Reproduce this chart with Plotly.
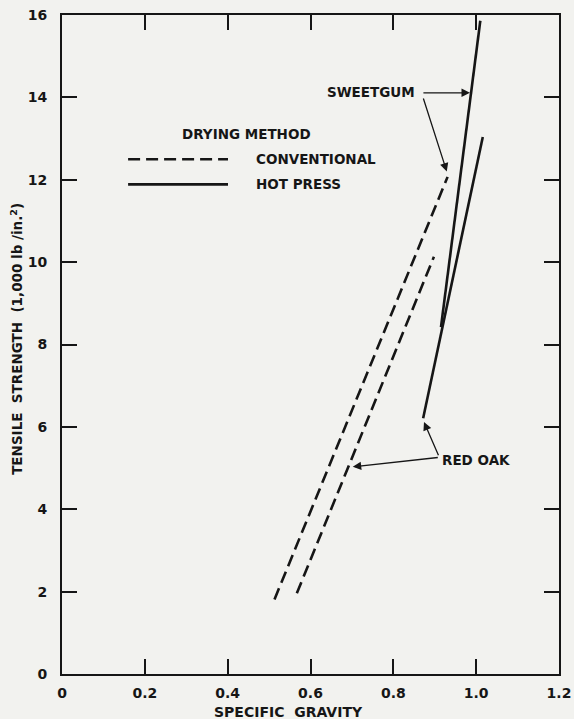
import plotly.graph_objects as go

# Data
sweetgum_conv_x = [0.513, 0.931]
sweetgum_conv_y = [1.81, 12.07]
redoak_conv_x = [0.567, 0.898]
redoak_conv_y = [1.96, 10.13]
sweetgum_hp_x = [0.915, 1.010]
sweetgum_hp_y = [8.42, 15.86]
redoak_hp_x = [0.872, 1.016]
redoak_hp_y = [6.21, 13.04]

x_ticks = [0, 0.2, 0.4, 0.6, 0.8, 1.0, 1.2]
x_ticklabels = ["0", "0.2", "0.4", "0.6", "0.8", "1.0", "1.2"]
y_ticks = [0, 2, 4, 6, 8, 10, 12, 14, 16]
y_ticklabels = ["0", "2", "4", "6", "8", "10", "12", "14", "16"]

INK = "#161616"
BG = "#f2f2ef"
FONT = "DejaVu Sans"
DASH = "12px,6px"
TXT = dict(family=FONT, size=13.5, color=INK, weight="bold")

fig = go.Figure()
for xs, ys, dash in [
    (sweetgum_conv_x, sweetgum_conv_y, DASH),
    (redoak_conv_x, redoak_conv_y, DASH),
    (sweetgum_hp_x, sweetgum_hp_y, "solid"),
    (redoak_hp_x, redoak_hp_y, "solid"),
]:
    fig.add_trace(go.Scatter(x=xs, y=ys, mode="lines",
                             line=dict(color=INK, width=2.6, dash=dash),
                             showlegend=False, hoverinfo="skip"))

axis_common = dict(showgrid=False, zeroline=False, showline=True, linecolor=INK,
                   linewidth=2, mirror="ticks", ticks="inside", ticklen=15,
                   tickwidth=2, tickcolor=INK, automargin=False,
                   tickfont=dict(family=FONT, size=14, color=INK, weight="bold"))

fig.update_xaxes(range=[0, 1.2], tickvals=x_ticks, ticktext=x_ticklabels,
                 ticklabelstandoff=5, **axis_common)
fig.update_yaxes(range=[0, 16], tickvals=y_ticks, ticktext=y_ticklabels,
                 ticklabelstandoff=10, **axis_common)

annotations = []
# text labels
annotations.append(dict(x=0.857, y=14.12, xref="x", yref="y", text="SWEETGUM",
                        showarrow=False, xanchor="right", yanchor="middle", font=TXT))
annotations.append(dict(x=0.913, y=5.19, xref="x", yref="y", text="RED OAK",
                        showarrow=False, xanchor="left", yanchor="middle", font=TXT))
# leader arrows (tail -> tip)
leaders = [
    ((0.869, 14.11), (0.985, 14.11)),
    ((0.871, 14.02), (0.929, 12.20)),
    ((0.911, 5.26), (0.702, 5.03)),
    ((0.911, 5.26), (0.874, 6.12)),
]
for (tx, ty), (hx, hy) in leaders:
    annotations.append(dict(x=hx, y=hy, ax=tx, ay=ty, xref="x", yref="y",
                            axref="x", ayref="y", text=" ", showarrow=True,
                            arrowhead=2, arrowsize=1.3, arrowwidth=1.3,
                            arrowcolor=INK, standoff=0, startstandoff=0,
                            font=dict(size=1)))

# legend (drawn manually)
annotations.append(dict(x=0.372, y=0.819, xref="paper", yref="paper",
                        text="DRYING METHOD", showarrow=False,
                        xanchor="center", yanchor="middle", font=TXT))
annotations.append(dict(x=0.386, y=0.781, xref="paper", yref="paper",
                        text="CONVENTIONAL", showarrow=False,
                        xanchor="left", yanchor="middle", font=TXT))
annotations.append(dict(x=0.386, y=0.743, xref="paper", yref="paper",
                        text="HOT PRESS", showarrow=False,
                        xanchor="left", yanchor="middle", font=TXT))
# axis titles
annotations.append(dict(x=0.455, y=-0.058, xref="paper", yref="paper",
                        text="SPECIFIC  GRAVITY", showarrow=False,
                        xanchor="center", yanchor="middle",
                        font=dict(family=FONT, size=14, color=INK, weight="bold")))
annotations.append(dict(x=-0.092, y=0.509, xref="paper", yref="paper",
                        text="TENSILE  STRENGTH  (1,000 lb /in.<sup>2</sup>)",
                        showarrow=False, textangle=-90,
                        xanchor="center", yanchor="middle", font=TXT))

shapes = [
    dict(type="line", xref="paper", yref="paper", x0=0.133, x1=0.334,
         y0=0.781, y1=0.781, line=dict(color=INK, width=2.6, dash=DASH)),
    dict(type="line", xref="paper", yref="paper", x0=0.133, x1=0.334,
         y0=0.743, y1=0.743, line=dict(color=INK, width=2.6)),
]

fig.update_layout(
    width=574, height=719,
    margin=dict(l=62, r=15, t=15, b=45),
    paper_bgcolor=BG, plot_bgcolor=BG,
    annotations=annotations, shapes=shapes,
    showlegend=False,
)

fig.write_html("out.html")
